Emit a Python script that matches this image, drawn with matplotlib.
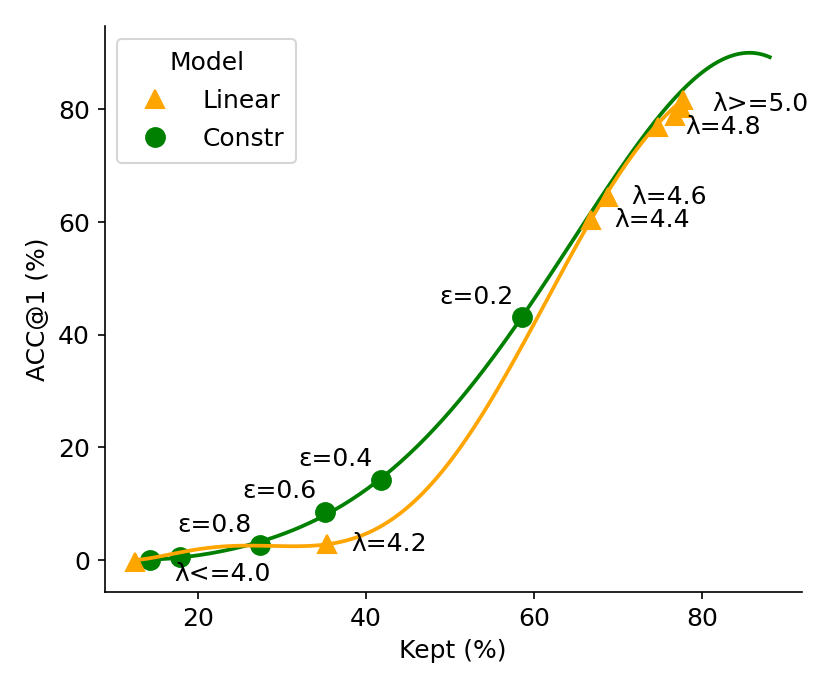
import numpy as np
import matplotlib
matplotlib.use('Agg')
import matplotlib.pyplot as plt
from numpy.polynomial import Polynomial

# ---- data ----
lin_kept = [12.5, 35.3, 66.8, 68.8, 74.7, 76.7, 77.4, 77.7]
lin_acc = [-0.3, 2.8, 60.3, 64.5, 76.8, 78.8, 80.2, 81.6]
lin_labels = ['λ<=4.0', 'λ=4.2', 'λ=4.4', 'λ=4.6', 'λ=4.8', '', '', 'λ>=5.0']

con_kept = [14.3, 17.9, 27.4, 35.1, 41.8, 58.5]
con_acc = [0.0, 0.6, 2.7, 8.6, 14.3, 43.1]
con_labels = ['', '', 'ε=0.8', 'ε=0.6', 'ε=0.4', 'ε=0.2']

# trend curves
lin_trend_x = [12.7, 16.0, 20.0, 24.0, 27.4, 31.0, 35.3, 40.1, 44.2, 48.0,
               54.7, 59.5, 63.4, 66.6, 69.4, 73.4, 77.7]
lin_trend_y = [0.0, 1.0, 1.8, 2.3, 2.6, 2.8, 3.0, 4.6, 8.2, 13.5,
               29.0, 40.8, 50.9, 59.8, 66.9, 75.7, 81.6]
con_trend_x = [14.3, 17.9, 27.4, 32.1, 35.1, 41.8, 48.0, 53.5, 58.5, 62.2,
               66.2, 70.2, 74.1, 77.3, 81.3, 85.2, 88.0]
con_trend_y = [0.0, 0.7, 2.8, 5.9, 8.6, 14.3, 22.8, 33.1, 43.2, 51.5,
               60.3, 69.2, 77.5, 83.1, 87.9, 90.0, 89.3]

ORANGE = '#ffa500'
GREEN = '#008000'

plt.rcParams['font.size'] = 12
plt.rcParams['axes.unicode_minus'] = False


def smooth(xs, ys, deg):
    p = Polynomial.fit(xs, ys, deg)
    xx = np.linspace(min(xs), max(xs), 300)
    return xx, p(xx)


fig = plt.figure(figsize=(830 / 150, 690 / 150), dpi=150)
ax = fig.add_axes([0.1261, 0.1416, 0.8398, 0.8207])

xg, yg = smooth(con_trend_x, con_trend_y, 6)
xo, yo = smooth(lin_trend_x, lin_trend_y, 6)

ax.plot(con_kept, con_acc, 'o', color=GREEN, ms=9, label='Constr')
ax.plot(xg, yg, '-', color=GREEN, lw=1.8)
ax.plot(lin_kept, lin_acc, '^', color=ORANGE, ms=9, label='Linear')
ax.plot(xo, yo, '-', color=ORANGE, lw=1.8)

for x, y, t in zip(con_kept, con_acc, con_labels):
    if t:
        ax.annotate(t, (x, y), xytext=(-4, 4), textcoords='offset points',
                    ha='right', va='bottom')
lin_off = [(18.7, -6), (12, 0), (11, 0), (11, 0), (13, 0), (0, 0), (0, 0), (14, -1.5)]
for (x, y, t), off in zip(zip(lin_kept, lin_acc, lin_labels), lin_off):
    if t:
        ax.annotate(t, (x, y), xytext=off, textcoords='offset points',
                    ha='left', va='center')

ax.set_xlim(8.9, 91.8)
ax.set_ylim(-5.7, 94.8)
ax.set_xticks([20, 40, 60, 80])
ax.set_yticks([0, 20, 40, 60, 80])
ax.spines['top'].set_visible(False)
ax.spines['right'].set_visible(False)
ax.set_xlabel('Kept (%)')
ax.set_ylabel('ACC@1 (%)')

h, l = ax.get_legend_handles_labels()
ax.legend(h[::-1], l[::-1], title='Model', loc='upper left',
          labelspacing=0.55, handletextpad=0.9, borderpad=0.5)

fig.savefig('out.png', dpi=150)
